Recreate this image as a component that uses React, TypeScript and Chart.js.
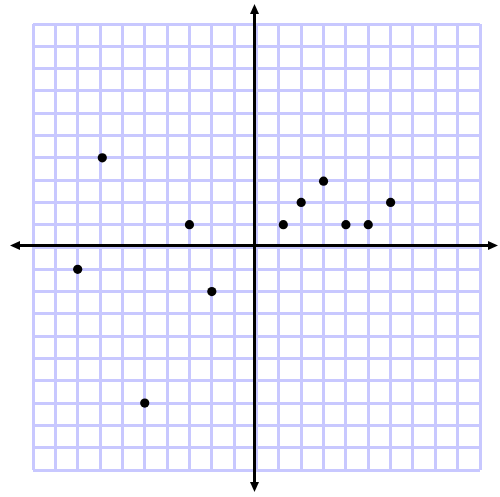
import React, { useEffect, useRef } from "react";
import { Chart, registerables } from "chart.js";

Chart.register(...registerables);

const xValues = [-6.9, -8, -3, -2, -5, 1.2, 2, 3, 4, 5, 6];
const yValues = [4, -1, 1, -2, -7, 1, 2, 2.95, 1, 1, 2];
const axisMin = -10;
const axisMax = 10;

const GRID_COLOR = "#c8c8ff";

const axesPlugin = {
  id: "arrowAxes",
  beforeDatasetsDraw(chart: any) {
    const { ctx, chartArea, scales } = chart;
    const x0 = scales.x.getPixelForValue(0) - 2;
    const y0 = scales.y.getPixelForValue(0) - 1.5;
    const left = chartArea.left - 23;
    const right = chartArea.right + 18;
    const top = chartArea.top - 20;
    const bottom = chartArea.bottom + 22;
    const L = 10;
    const W = 4.5;
    ctx.save();
    ctx.strokeStyle = "#000";
    ctx.fillStyle = "#000";
    ctx.lineWidth = 3;
    ctx.beginPath();
    ctx.moveTo(left + L - 1, y0);
    ctx.lineTo(right - L + 1, y0);
    ctx.moveTo(x0, top + L - 1);
    ctx.lineTo(x0, bottom - L + 1);
    ctx.stroke();
    // arrowheads
    const tri = (pts: number[][]) => {
      ctx.beginPath();
      ctx.moveTo(pts[0][0], pts[0][1]);
      ctx.lineTo(pts[1][0], pts[1][1]);
      ctx.lineTo(pts[2][0], pts[2][1]);
      ctx.closePath();
      ctx.fill();
    };
    tri([[left, y0], [left + L, y0 - W], [left + L, y0 + W]]);
    tri([[right, y0], [right - L, y0 - W], [right - L, y0 + W]]);
    tri([[x0, top], [x0 - W, top + L], [x0 + W, top + L]]);
    tri([[x0, bottom], [x0 - W, bottom - L], [x0 + W, bottom - L]]);
    ctx.restore();
  },
};

export default function App() {
  const ref = useRef<HTMLCanvasElement | null>(null);
  useEffect(() => {
    if (!ref.current) return;
    const data = xValues.map((x, i) => ({ x, y: yValues[i] }));
    const scaleOpts = {
      type: "linear" as const,
      min: axisMin,
      max: axisMax,
      ticks: { display: false, stepSize: 1 },
      border: { display: false },
      grid: { color: GRID_COLOR, lineWidth: 3, drawTicks: false },
    };
    const chart = new Chart(ref.current, {
      type: "scatter",
      data: {
        datasets: [
          {
            data,
            backgroundColor: "#000",
            borderWidth: 0,
            pointRadius: 4.6,
            pointHoverRadius: 4.6,
          },
        ],
      },
      options: {
        animation: false,
        responsive: false,
        layout: { padding: { left: 33, right: 20, top: 24, bottom: 27 } },
        plugins: { legend: { display: false }, tooltip: { enabled: false } },
        scales: { x: scaleOpts, y: scaleOpts },
      },
      plugins: [axesPlugin],
    });
    return () => chart.destroy();
  }, []);
  return (
    <div style={{ position: "fixed", left: 0, top: 0, width: 500, height: 497, background: "#fff" }}>
      <canvas ref={ref} width={500} height={497} style={{ display: "block" }} />
    </div>
  );
}
